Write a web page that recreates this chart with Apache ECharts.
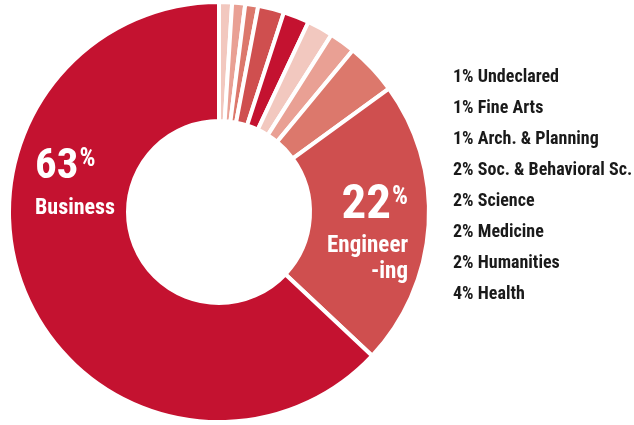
<!DOCTYPE html>
<html>
<head>
<meta charset="utf-8">
<script src="https://cdn.jsdelivr.net/npm/echarts@6/dist/echarts.min.js"></script>
<style>
  html, body { margin: 0; padding: 0; background: #fff; }
  #chart { width: 634px; height: 425px; }
</style>
</head>
<body>
<div id="chart"></div>
<script>
// slices, clockwise from 12 o'clock
const names = ['Undeclared', 'Fine Arts', 'Arch. & Planning', 'Soc. & Behavioral Sc.',
  'Science', 'Medicine', 'Humanities', 'Health', 'Engineering', 'Business'];
const shares = [1, 1, 1, 2, 2, 2, 2, 4, 22, 63];
const colors = ['#f2c8bf', '#e9a094', '#dc786c', '#cf4f4f', '#c41230',
  '#f2c8bf', '#e9a094', '#dc786c', '#cf4f4f', '#c41230'];
const legendNames = names.slice(0, 8);

const font = '"Roboto Condensed", "Liberation Sans Narrow", sans-serif';

function bigRich(numSize, numLH, pctPad, txtSize, txtLH) {
  return {
    num: { fontSize: numSize, fontWeight: 'bold', color: '#fff', fontFamily: font, lineHeight: numLH },
    pct: { fontSize: 25, fontWeight: 'bold', color: '#fff', fontFamily: font, lineHeight: 22,
      verticalAlign: 'top', padding: [pctPad, 0, 0, 1] },
    txt: { fontSize: txtSize, fontWeight: 'bold', color: '#fff', fontFamily: font, lineHeight: txtLH }
  };
}

const data = names.map((n, i) => {
  const d = { name: n, value: shares[i], itemStyle: { color: colors[i] } };
  if (n === 'Business') {
    d.label = { show: true, align: 'left', formatter: '{num|63}{pct|%}\n{txt|Business}',
      rich: bigRich(43, 46, 3, 22, 36) };
  } else if (n === 'Engineering') {
    d.label = { show: true, align: 'right', formatter: '{num|22}{pct|%}\n{txt|Engineer}\n{txt|-ing}',
      rich: bigRich(49, 54, 6, 23, 26) };
  }
  return d;
});

const chart = echarts.init(document.getElementById('chart'));
chart.setOption({
  animation: false,
  legend: {
    orient: 'vertical',
    left: 443,
    top: 63,
    icon: 'none',
    itemWidth: 0,
    itemHeight: 10,
    itemGap: 13,
    selectedMode: false,
    data: legendNames,
    formatter: function (n) {
      return shares[names.indexOf(n)] + '% ' + n;
    },
    textStyle: { fontFamily: font, fontWeight: 'bold', fontSize: 18, lineHeight: 18, color: '#1a1a1a' }
  },
  series: [{
    type: 'pie',
    center: [219, 212],
    radius: [91, 210],
    startAngle: 90,
    clockwise: true,
    silent: true,
    itemStyle: { borderColor: '#fff', borderWidth: 4 },
    label: { show: false, position: 'inside' },
    labelLine: { show: false },
    labelLayout: function (p) {
      if (p.dataIndex === 9) return { x: 35, y: 144, align: 'left', verticalAlign: 'top' };
      if (p.dataIndex === 8) return { x: 408, y: 179, align: 'right', verticalAlign: 'top' };
      return {};
    },
    data: data
  }]
});
</script>
</body>
</html>
